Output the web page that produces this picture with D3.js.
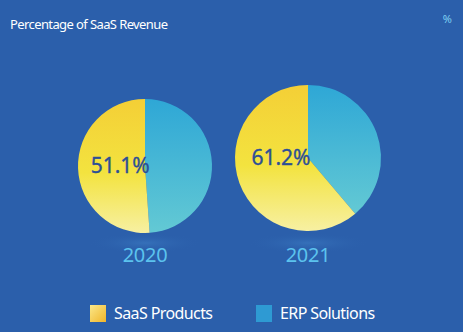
<!DOCTYPE html>
<html>
<head>
<meta charset="utf-8">
<title>Percentage of SaaS Revenue</title>
<script src="https://d3js.org/d3.v7.min.js"></script>
<style>
  body { margin: 0; background: #2b5fab; }
  text { font-family: "Noto Sans", "Open Sans", sans-serif; }
</style>
</head>
<body>
<div id="chart"></div>
<script>
// data
var years = ["2020", "2021"];
var categories = ["SaaS Products", "ERP Solutions"];
var saasShare = [51.1, 61.2];
var erpShare = [48.9, 38.8];

var width = 463, height = 332;

var svg = d3.select("#chart").append("svg")
    .attr("width", width)
    .attr("height", height);

var defs = svg.append("defs");

// yellow gradient for SaaS, blue for ERP
var gy = defs.append("linearGradient").attr("id", "gYellow")
    .attr("x1", 0).attr("y1", 0).attr("x2", 0).attr("y2", 1);
gy.append("stop").attr("offset", "0%").attr("stop-color", "#f4cf36");
gy.append("stop").attr("offset", "55%").attr("stop-color", "#f3e33f");
gy.append("stop").attr("offset", "100%").attr("stop-color", "#f7f0a2");

var gb = defs.append("linearGradient").attr("id", "gBlue")
    .attr("x1", 0).attr("y1", 0).attr("x2", 0).attr("y2", 1);
gb.append("stop").attr("offset", "0%").attr("stop-color", "#2ea7d6");
gb.append("stop").attr("offset", "100%").attr("stop-color", "#63c9d4");

var gl = defs.append("linearGradient").attr("id", "gLegY")
    .attr("x1", 0).attr("y1", 0).attr("x2", 1).attr("y2", 1);
gl.append("stop").attr("offset", "0%").attr("stop-color", "#fbe88a");
gl.append("stop").attr("offset", "100%").attr("stop-color", "#f0b52a");

var shadow = defs.append("radialGradient").attr("id", "gShadow");
shadow.append("stop").attr("offset", "0%").attr("stop-color", "#3a78c0").attr("stop-opacity", 0.7);
shadow.append("stop").attr("offset", "100%").attr("stop-color", "#2b5fab").attr("stop-opacity", 0);

var fills = ["url(#gYellow)", "url(#gBlue)"];

// title
svg.append("text")
    .attr("x", 10).attr("y", 29)
    .attr("fill", "#ffffff")
    .attr("font-size", 13)
    .attr("letter-spacing", -0.6)
    .text("Percentage of SaaS Revenue");

svg.append("text")
    .attr("x", 452).attr("y", 23)
    .attr("text-anchor", "end")
    .attr("fill", "#7fd0f2")
    .attr("font-size", 11)
    .text("%");

// pie layout sizes (2021 pie drawn slightly larger)
var centers = d3.scalePoint().domain(years).range([145, 308]);
var cy = {"2020": 166, "2021": 158};
var radius = {"2020": 67, "2021": 73};

var pie = d3.pie().sort(null).value(function(d) { return d.value; });

years.forEach(function(yr, i) {
    // faint reflection under the pie
    svg.append("ellipse")
        .attr("cx", centers(yr)).attr("cy", 243)
        .attr("rx", radius[yr] * 0.85).attr("ry", 10)
        .attr("fill", "url(#gShadow)");

    var g = svg.append("g")
        .attr("transform", "translate(" + centers(yr) + "," + cy[yr] + ")");

    // ERP first (clockwise from top), SaaS fills the rest
    var slices = [
        {name: categories[1], value: erpShare[i], fill: fills[1]},
        {name: categories[0], value: saasShare[i], fill: fills[0]}
    ];
    var arc = d3.arc().innerRadius(0).outerRadius(radius[yr]);

    g.selectAll("path")
        .data(pie(slices))
        .enter().append("path")
        .attr("d", arc)
        .attr("fill", function(d) { return d.data.fill; });

    g.append("text")
        .attr("x", -radius[yr] * 0.37)
        .attr("y", 0)
        .attr("dy", "0.35em")
        .attr("text-anchor", "middle")
        .attr("fill", "#2c4f96")
        .attr("stroke", "#2c4f96")
        .attr("stroke-width", 0.35)
        .attr("font-size", 21)
        .text(d3.format(".1f")(saasShare[i]) + "%");

    svg.append("text")
        .attr("x", centers(yr)).attr("y", 262)
        .attr("text-anchor", "middle")
        .attr("fill", "#5cc3ee")
        .attr("font-size", 20)
        .attr("letter-spacing", -0.3)
        .text(yr);
});

// legend
var legX = [90, 256];
var legFill = ["url(#gLegY)", "#2e9ad3"];
categories.forEach(function(c, i) {
    svg.append("rect")
        .attr("x", legX[i]).attr("y", 305)
        .attr("width", 16).attr("height", 17)
        .attr("fill", legFill[i]);
    svg.append("text")
        .attr("x", legX[i] + 24).attr("y", 319)
        .attr("fill", "#ffffff")
        .attr("font-size", 16)
        .attr("letter-spacing", -0.6)
        .text(c);
});
</script>
</body>
</html>
